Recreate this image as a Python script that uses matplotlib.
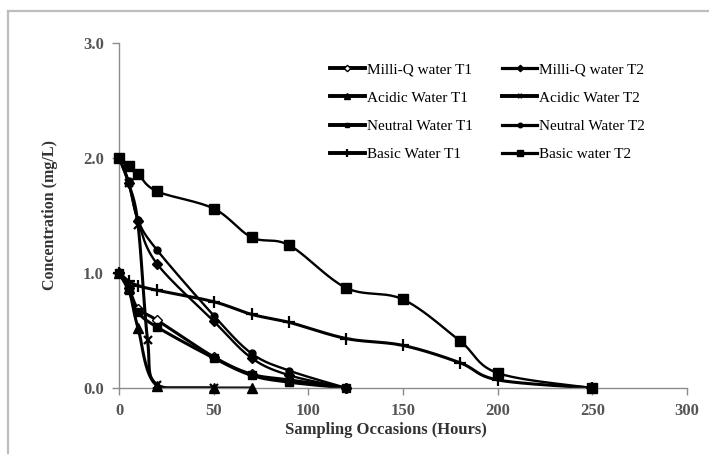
import numpy as np
import matplotlib
matplotlib.use("Agg")
import matplotlib.pyplot as plt
from matplotlib.lines import Line2D

plt.rcParams['font.family'] = ['Liberation Serif', 'DejaVu Serif']

# Sampling times (hours) and concentrations (mg/L)
t_short = [0, 5, 10, 20, 50, 70, 90, 120]
t_long = [0, 5, 10, 20, 50, 70, 90, 120, 150, 180, 200, 250]
t_fast = [0, 5, 10, 15, 20, 50]
t_fast1 = [0, 5, 10, 20, 50, 70]

milliq_t1 = [1.00, 0.87, 0.69, 0.59, 0.27, 0.12, 0.07, 0.00]
milliq_t2 = [2.00, 1.78, 1.45, 1.08, 0.58, 0.26, 0.11, 0.00]
acidic_t1 = [1.00, 0.87, 0.52, 0.02, 0.00, 0.00]
acidic_t2 = [2.00, 1.78, 1.42, 0.42, 0.03, 0.00]
neutral_t1 = [1.00, 0.85, 0.66, 0.53, 0.26, 0.11, 0.05, 0.00]
neutral_t2 = [2.00, 1.80, 1.46, 1.20, 0.63, 0.30, 0.15, 0.00]
basic_t1 = [1.00, 0.93, 0.89, 0.85, 0.75, 0.64, 0.57, 0.43, 0.37, 0.22, 0.07, 0.00]
basic_t2 = [2.00, 1.93, 1.86, 1.71, 1.56, 1.31, 1.24, 0.87, 0.77, 0.41, 0.13, 0.00]


def smooth(x, y, n=24):
    # cardinal (Catmull-Rom style) Bezier smoothing between the points
    p = np.column_stack([x, y]).astype(float)
    out = [p[0]]
    s = np.linspace(0, 1, n)[1:, None]
    for i in range(len(p) - 1):
        p0 = p[i - 1] if i > 0 else p[i]
        p3 = p[i + 2] if i + 2 < len(p) else p[i + 1]
        c1 = p[i] + (p[i + 1] - p0) / 6
        c2 = p[i + 1] - (p3 - p[i]) / 6
        seg = ((1 - s) ** 3) * p[i] + 3 * ((1 - s) ** 2) * s * c1 \
            + 3 * (1 - s) * s ** 2 * c2 + s ** 3 * p[i + 1]
        out.extend(seg)
    out = np.array(out)
    return out[:, 0], np.maximum(out[:, 1], 0)


series = [
    ("Milli-Q water T1", t_short, milliq_t1, dict(marker='D', mfc='white', ms=5, lw=2.2)),
    ("Acidic Water T1", t_fast1, acidic_t1, dict(marker='^', ms=6.5, lw=2.2)),
    ("Neutral Water T1", t_short, neutral_t1, dict(marker='s', ms=5.5, lw=2.2)),
    ("Basic Water T1", t_long, basic_t1, dict(marker='+', ms=8, mew=1.6, lw=2.2)),
    ("Milli-Q water T2", t_short, milliq_t2, dict(marker='D', ms=5, lw=1.7)),
    ("Acidic Water T2", t_fast, acidic_t2, dict(marker='x', ms=5.5, mew=1.6, lw=2.2)),
    ("Neutral Water T2", t_short, neutral_t2, dict(marker='o', ms=5, lw=1.7)),
    ("Basic water T2", t_long, basic_t2, dict(marker='s', ms=6.5, lw=1.7)),
]

fig = plt.figure(figsize=(7.09, 4.54), dpi=100)
ax = fig.add_axes([0.168, 0.1454, 0.801, 0.7599])

handles = []
for label, x, y, st in series:
    sx, sy = smooth(x, y)
    ax.plot(sx, sy, color='black', lw=st['lw'], solid_capstyle='round', zorder=2)
    ax.plot(x, y, linestyle='none', color='black', marker=st['marker'],
            mfc=st.get('mfc', 'black'), mec='black', ms=st['ms'],
            mew=st.get('mew', 1.0), zorder=3, clip_on=False)
    handles.append(Line2D([], [], color='black', lw=st['lw'] + 0.6,
                          marker=st['marker'], mfc=st.get('mfc', 'black'),
                          mec='black', ms=st['ms'] * 0.65,
                          mew=st.get('mew', 1.0), label=label))

ax.set_xlim(0, 300)
ax.set_ylim(0, 3.0)
ax.set_xticks(np.arange(0, 301, 50))
ax.set_yticks([0, 1.0, 2.0, 3.0])
ax.set_yticklabels(['0.0', '1.0', '2.0', '3.0'])

for side in ['top', 'right']:
    ax.spines[side].set_visible(False)
for side in ['left', 'bottom']:
    ax.spines[side].set_color('#8c8c8c')
    ax.spines[side].set_linewidth(1.0)
ax.tick_params(direction='out', length=5, color='#8c8c8c', width=1.0,
               labelsize=12, labelcolor='#555555', pad=6)
for lab in ax.get_xticklabels() + ax.get_yticklabels():
    lab.set_fontweight('bold')

ax.set_xlabel('Sampling Occasions (Hours)', fontsize=12, fontweight='bold',
              color='#333333', labelpad=4)
ax.xaxis.set_label_coords(0.47, -0.1)
ax.set_ylabel('Concentration (mg/L)', fontsize=11.5, fontweight='bold',
              color='#333333', labelpad=18)

ax.legend(handles=handles, ncol=2, frameon=False, loc='upper left',
          bbox_to_anchor=(0.36, 0.96), fontsize=11, handlelength=2.3,
          handletextpad=0.15, columnspacing=1.9, labelspacing=0.95,
          borderaxespad=0)

# outer frame edges
fig.add_artist(Line2D([8 / 709, 8 / 709], [0, 1 - 11 / 454],
                      transform=fig.transFigure, color='#bdbdbd', lw=1.6))
fig.add_artist(Line2D([8 / 709, 1], [1 - 11 / 454, 1 - 11 / 454],
                      transform=fig.transFigure, color='#bdbdbd', lw=1.6))

fig.savefig('out.png', dpi=100)
